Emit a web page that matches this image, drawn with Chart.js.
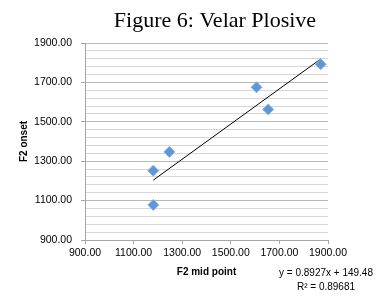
<!DOCTYPE html>
<html>
<head>
<meta charset="utf-8">
<script src="https://cdn.jsdelivr.net/npm/chart.js@4"></script>
<style>
  html, body { margin: 0; padding: 0; background: #fff; }
  #wrap { width: 384px; height: 297px; }
</style>
</head>
<body>
<div id="wrap"><canvas id="velarChart" width="384" height="297"></canvas></div>
<script>
// values
const midPoint = [1181, 1181, 1247, 1606, 1654, 1870];
const onset = [1078, 1252, 1347, 1675, 1563, 1792];
// trendline ends, from the equation printed on the figure
const trendX = [1181, 1870];
const trendY = [1204, 1819];
const xTicks = [900, 1100, 1300, 1500, 1700, 1900];
const yTicks = [900, 1100, 1300, 1500, 1700, 1900];
const equationText = ['y = 0.8927x + 149.48', 'R\u00B2 = 0.89681'];

const sans = "'Liberation Sans', Arial, sans-serif";

// title and trendline label are placed by hand, like the excel export
const textPlugin = {
  id: 'figText',
  afterDraw(chart) {
    const c = chart.ctx;
    c.save();
    c.fillStyle = '#000';
    c.textAlign = 'center';
    c.textBaseline = 'alphabetic';
    c.font = "22px 'Liberation Serif', 'Times New Roman', serif";
    c.fillText('Figure 6: Velar Plosive', 215, 27);
    c.font = '10px ' + sans;
    c.textBaseline = 'middle';
    c.fillText(equationText[0], 326, 273);
    c.fillText(equationText[1], 326, 287);
    c.restore();
  }
};

const ctx = document.getElementById('velarChart').getContext('2d');
const velarChart = new Chart(ctx, {
  type: 'scatter',
  data: {
    datasets: [{
      label: 'Velar',
      data: midPoint.map((x, i) => ({ x: x, y: onset[i] })),
      pointStyle: 'rectRot',
      pointRadius: 5.5,
      pointHoverRadius: 5.5,
      backgroundColor: '#5f97d6',
      borderColor: '#8ab4e6',
      borderWidth: 1,
      order: 1
    }, {
      label: 'Linear (Velar)',
      data: trendX.map((x, i) => ({ x: x, y: trendY[i] })),
      showLine: true,
      borderColor: '#000',
      borderWidth: 1,
      pointRadius: 0,
      order: 2
    }]
  },
  options: {
    responsive: false,
    animation: false,
    layout: { padding: { left: 0, right: 56, top: 43, bottom: 0 } },
    plugins: {
      legend: { display: false },
      title: { display: false },
      tooltip: { enabled: false }
    },
    scales: {
      x: {
        type: 'linear',
        min: 900,
        max: 1900,
        afterFit(scale) { scale.height = 57; },
        afterBuildTicks(scale) { scale.ticks = xTicks.map(v => ({ value: v })); },
        ticks: {
          padding: 3,
          color: '#000',
          font: { family: sans, size: 10.5 },
          callback: v => v.toFixed(2)
        },
        grid: { drawOnChartArea: false, tickLength: 4, color: '#a6a6a6' },
        border: { color: '#a6a6a6' },
        title: {
          display: true,
          text: 'F2 mid point',
          color: '#000',
          font: { family: sans, size: 10, weight: 'bold' },
          padding: { top: 0, bottom: 19 }
        }
      },
      y: {
        type: 'linear',
        min: 900,
        max: 1900,
        afterFit(scale) { scale.width = 85; },
        ticks: {
          stepSize: 40,
          autoSkip: false,
          padding: 9,
          color: '#000',
          font: { family: sans, size: 10.5 },
          callback: v => yTicks.includes(v) ? v.toFixed(2) : ''
        },
        grid: {
          tickLength: 4,
          color: c => yTicks.includes(c.tick.value) ? '#b8b8b8' : '#d6d6d6',
          tickColor: c => yTicks.includes(c.tick.value) ? '#a6a6a6' : 'rgba(0,0,0,0)'
        },
        border: { color: '#a6a6a6' },
        title: {
          display: true,
          text: 'F2 onset',
          color: '#000',
          font: { family: sans, size: 10, weight: 'bold' },
          padding: { top: 18, bottom: 0 }
        }
      }
    }
  },
  plugins: [textPlugin]
});
</script>
</body>
</html>
